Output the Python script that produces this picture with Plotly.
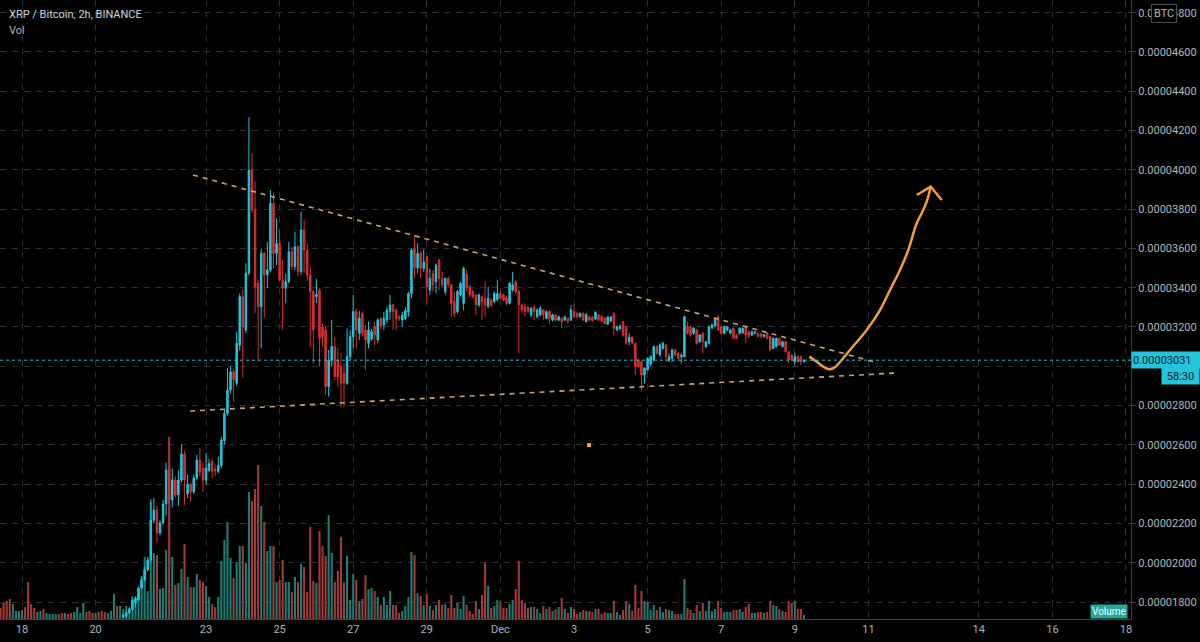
import pandas as pd
import plotly.graph_objects as go

# ---------------- data (prices in satoshi = 1e-8 BTC) ----------------
start_time = "2020-11-17 10:00"
n_bars = 263            # 2h bars visible in the window (volume)
first_candle = 40       # first candle whose price lies inside the visible range

opens = [1725,1728,1746,1762,1796,1810,1871,1912,1963,2014,
 2217,2268,2151,2202,2299,2477,2319,2421,2345,2421,
 2553,2350,2400,2360,2432,2523,2480,2420,2470,2515,
 2475,2465,2495,2620,2760,2879,2972,2913,3108,3354,
 3185,3473,3999,3795,3422,3303,3575,3465,3490,3829,
 3575,3626,3439,3397,3431,3583,3507,3609,3482,3694,
 3592,3465,3380,3355,3388,3200,3185,2896,3032,3100,
 3032,2998,2964,2913,3049,3150,3278,3168,3270,3185,
 3117,3138,3202,3134,3244,3210,3236,3278,3312,3286,
 3252,3235,3244,3278,3371,3600,3500,3575,3498,3558,
 3388,3473,3431,3541,3448,3380,3448,3414,3330,3278,
 3363,3320,3470,3405,3380,3363,3312,3354,3346,3303,
 3337,3329,3340,3371,3363,3350,3320,3388,3430,3380,
 3312,3303,3300,3261,3303,3252,3261,3286,3244,3278,
 3235,3261,3235,3244,3235,3244,3235,3278,3269,3252,
 3269,3227,3252,3250,3240,3261,3255,3247,3215,3230,
 3269,3185,3190,3227,3201,3125,3147,3117,3032,3023,
 2955,2981,3010,3032,3100,3057,3091,3108,3032,3040,
 3083,3066,3049,3049,3201,3201,3168,3185,3125,3168,
 3100,3117,3195,3205,3252,3201,3168,3185,3168,3193,
 3160,3168,3170,3201,3176,3159,3168,3168,3165,3151,
 3168,3151,3091,3100,3142,3100,3125,3074,3057,3023,
 3049,3049,3023]

highs = [1740,1752,1775,1815,1830,1880,1925,1980,2030,2324,
 2330,2290,2215,2320,2508,2520,2480,2440,2470,2600,
 2570,2450,2410,2450,2550,2585,2510,2560,2530,2530,
 2500,2540,2640,2780,2990,3000,2985,3176,3371,3390,
 3524,4267,4084,3940,3439,3600,3583,3634,3897,3880,
 3753,3694,3541,3473,3634,3609,3685,3617,3787,3745,
 3626,3507,3388,3445,3397,3215,3202,3083,3236,3151,
 3091,3066,3015,3193,3185,3363,3295,3281,3275,3210,
 3227,3190,3227,3244,3250,3278,3303,3363,3317,3295,
 3260,3278,3300,3380,3600,3668,3626,3585,3595,3560,
 3498,3490,3524,3545,3480,3450,3456,3420,3380,3388,
 3430,3507,3490,3414,3390,3370,3370,3360,3430,3405,
 3345,3380,3440,3380,3370,3360,3430,3481,3440,3390,
 3320,3320,3305,3300,3310,3295,3305,3292,3285,3283,
 3268,3266,3258,3250,3258,3250,3312,3312,3275,3275,
 3275,3270,3258,3256,3280,3266,3260,3252,3256,3256,
 3275,3208,3212,3232,3206,3168,3152,3122,3040,3030,
 2995,3045,3055,3105,3106,3117,3125,3114,3066,3090,
 3090,3072,3066,3255,3230,3206,3200,3190,3165,3174,
 3130,3208,3218,3245,3260,3206,3206,3206,3190,3198,
 3165,3198,3198,3206,3181,3181,3181,3173,3170,3165,
 3173,3156,3147,3147,3147,3130,3130,3079,3062,3066,
 3054,3054,3036]

lows = [1718,1720,1740,1755,1775,1805,1865,1905,1955,2005,
 2200,2100,2140,2195,2240,2300,2280,2330,2290,2410,
 2294,2330,2310,2350,2420,2440,2360,2400,2460,2430,
 2440,2455,2480,2600,2750,2860,2820,2900,3080,2940,
 3170,3460,3780,3270,3023,3091,3244,3397,3480,3499,
 3515,3431,3185,3320,3422,3490,3490,3456,3465,3473,
 3431,3100,3015,3320,2998,3100,2854,2845,2998,2930,
 2896,2794,2794,2905,3032,3091,3091,3134,3151,2981,
 3091,3130,3108,3117,3190,3185,3219,3236,3185,3185,
 3230,3201,3235,3252,3346,3450,3473,3448,3481,3320,
 3363,3380,3371,3388,3400,3363,3405,3252,3252,3269,
 3355,3286,3380,3350,3345,3261,3300,3235,3252,3295,
 3300,3320,3330,3340,3330,3310,3315,3380,3370,3066,
 3270,3252,3270,3250,3235,3245,3255,3235,3240,3218,
 3228,3228,3230,3193,3230,3220,3230,3245,3245,3248,
 3230,3222,3228,3226,3235,3230,3226,3212,3210,3226,
 3159,3180,3185,3150,3110,3108,3110,2955,2990,2871,
 2913,2975,3000,3025,3060,3050,3085,3023,3023,3023,
 3050,3035,3015,3045,3160,3150,3160,3110,3118,3066,
 3091,3110,3188,3198,3180,3160,3162,3180,3162,3136,
 3136,3162,3165,3117,3145,3154,3163,3145,3145,3146,
 3137,3078,3086,3095,3103,3095,3069,3015,3027,3006,
 3018,3006,3018]

closes = [1735,1746,1766,1810,1820,1871,1912,1963,2014,2217,
 2268,2151,2202,2299,2472,2319,2421,2345,2421,2553,
 2421,2400,2360,2432,2523,2460,2420,2482,2505,2465,
 2468,2495,2625,2760,2879,2972,2930,3117,3354,3200,
 3473,3999,3795,3405,3303,3575,3465,3490,3829,3575,
 3626,3439,3397,3431,3583,3507,3609,3482,3694,3592,
 3465,3380,3185,3365,3142,3150,2896,3032,3100,2947,
 2947,2913,2913,3049,3151,3278,3185,3244,3168,3134,
 3185,3176,3159,3236,3202,3244,3286,3312,3278,3244,
 3244,3261,3286,3371,3592,3500,3575,3498,3530,3405,
 3448,3414,3515,3448,3414,3448,3414,3320,3269,3380,
 3422,3498,3400,3363,3355,3312,3363,3329,3312,3346,
 3312,3371,3371,3346,3337,3320,3422,3414,3380,3312,
 3286,3278,3280,3295,3278,3286,3295,3261,3278,3244,
 3261,3235,3252,3227,3252,3227,3286,3252,3252,3269,
 3235,3264,3235,3232,3275,3235,3232,3218,3250,3250,
 3193,3201,3205,3159,3117,3147,3117,2998,2998,2955,
 2990,3040,3049,3100,3066,3108,3117,3049,3049,3083,
 3057,3040,3057,3252,3168,3159,3193,3117,3159,3125,
 3125,3201,3210,3240,3185,3168,3201,3201,3185,3142,
 3142,3193,3193,3159,3151,3176,3176,3151,3151,3160,
 3142,3083,3142,3142,3108,3125,3074,3032,3032,3049,
 3023,3023,3031]

volume = [11,16,18,20,15,8,8,9,12,37,
 15,11,7,8,10,6,5,5,5,5,
 6,6,5,6,7,12,6,16,7,8,
 6,6,7,8,7,6,8,25,13,13,
 10,13,8,23,20,28,43,62,28,117,
 66,64,30,31,69,182,62,34,36,50,
 75,42,32,32,45,39,37,33,22,15,
 12,22,58,79,97,61,41,57,73,73,
 56,127,118,130,154,113,97,68,73,73,
 37,39,59,37,37,27,42,37,55,52,
 27,92,38,36,88,73,63,104,66,37,
 48,82,37,63,19,45,39,18,20,44,
 30,31,28,22,14,22,14,28,14,14,
 6,8,13,22,67,64,26,23,14,25,
 13,9,14,19,14,15,11,24,11,16,
 10,23,14,8,5,18,10,24,56,33,
 11,13,19,18,11,11,15,19,30,58,
 19,16,11,12,12,10,6,13,10,12,
 8,10,12,21,10,6,12,10,5,7,
 9,8,8,7,10,10,5,7,6,6,
 18,7,4,9,18,15,8,34,11,28,
 18,17,9,14,9,12,7,10,9,8,
 5,5,5,40,11,9,6,14,8,16,
 8,18,8,10,18,11,7,7,7,9,
 9,10,7,12,15,6,6,7,7,6,
 7,18,14,13,10,8,7,18,16,18,
 10,10,4]

# direction of the early bars whose candles are below the visible price range
early_vol_up = [0,0,0,0,1,1,1,1,0,0, 0,0,1,1,0,1,1,1,1,0,
                0,1,0,0,1,1,1,1,0,0, 0,1,0,0,0,1,1,1,0,1]

last_price = 3031
countdown = "58:30"
price_ticks = [1800, 2000, 2200, 2400, 2600, 2800, 3000, 3200, 3400,
               3600, 3800, 4000, 4200, 4400, 4600, 4800]
hidden_tick = 3000      # its label sits under the last-price label in the reference
date_ticks = ["2020-11-18", "2020-11-20", "2020-11-23", "2020-11-25", "2020-11-27",
              "2020-11-29", "2020-12-01", "2020-12-03", "2020-12-05", "2020-12-07",
              "2020-12-09", "2020-12-11", "2020-12-14", "2020-12-16", "2020-12-18"]
date_labels = ["18", "20", "23", "25", "27", "29", "Dec", "3", "5", "7", "9", "11", "14", "16", "18"]

# drawings (anchor points in time / price)
upper_trend_t = ["2020-11-22 15:32", "2020-12-11 06:15"]
upper_trend_p = [3974, 3017]
lower_trend_t = ["2020-11-22 13:34", "2020-12-11 18:39"]
lower_trend_p = [2772, 2966]
curve_t = ["2020-12-09 09:27", "2020-12-09 14:17", "2020-12-09 18:35", "2020-12-09 22:29",
           "2020-12-10 02:12", "2020-12-10 06:35", "2020-12-10 12:00", "2020-12-10 22:53",
           "2020-12-11 07:34", "2020-12-11 14:05", "2020-12-11 20:37", "2020-12-12 02:01",
           "2020-12-12 07:30", "2020-12-12 10:45", "2020-12-12 14:01", "2020-12-12 16:38"]
curve_p = [3049, 3023, 2998, 2985, 2995, 3032, 3083, 3185, 3286, 3388, 3490, 3592,
           3728, 3779, 3838, 3914]
arrow_t = ["2020-12-12 07:30", "2020-12-12 16:38", "2020-12-12 23:49"]
arrow_p = [3872, 3914, 3846]
dot_t = ["2020-12-03 09:47"]
dot_p = [2599]

# ---------------- build ----------------
SAT = 1e-8
UP, DOWN = "#22c5dc", "#d6302d"
VUP, VDOWN = "#1c7d75", "#a23a38"
GRID = "#2a2e39"
TXT = "#b2b5be"
FONT = "Roboto"

times = pd.date_range(start_time, periods=n_bars, freq="2h")
ctimes = times[first_candle:]
s = lambda arr: [v * SAT for v in arr]

vol_up = early_vol_up + [1 if c >= o else 0 for o, c in zip(opens, closes)]
vol_colors = [VUP if u else VDOWN for u in vol_up]

fig = go.Figure()
fig.add_trace(go.Bar(x=times, y=volume, marker_color=vol_colors, marker_line_width=0,
                     yaxis="y", hoverinfo="skip", showlegend=False))
fig.add_trace(go.Candlestick(
    x=ctimes, open=s(opens), high=s(highs), low=s(lows), close=s(closes),
    yaxis="y2", whiskerwidth=0,
    increasing=dict(line=dict(color=UP, width=1), fillcolor=UP),
    decreasing=dict(line=dict(color=DOWN, width=1), fillcolor=DOWN),
    hoverinfo="skip", showlegend=False))

trend_style = dict(color="#cfa273", width=1.6, dash="5px,5px")
fig.add_trace(go.Scatter(x=upper_trend_t, y=s(upper_trend_p), mode="lines", line=trend_style,
                         yaxis="y2", hoverinfo="skip", showlegend=False))
fig.add_trace(go.Scatter(x=lower_trend_t, y=s(lower_trend_p), mode="lines", line=trend_style,
                         yaxis="y2", hoverinfo="skip", showlegend=False))
ORANGE = "#f59d33"
fig.add_trace(go.Scatter(x=curve_t, y=s(curve_p), mode="lines",
                         line=dict(color=ORANGE, width=2.5, shape="spline"),
                         yaxis="y2", hoverinfo="skip", showlegend=False))
fig.add_trace(go.Scatter(x=arrow_t, y=s(arrow_p), mode="lines",
                         line=dict(color=ORANGE, width=2.5),
                         yaxis="y2", hoverinfo="skip", showlegend=False))
fig.add_trace(go.Scatter(x=dot_t, y=s(dot_p), mode="markers",
                         marker=dict(color=ORANGE, size=4, symbol="square"),
                         yaxis="y2", hoverinfo="skip", showlegend=False))

tick_text = ["" if v == hidden_tick else f"{v * SAT:.8f}" for v in price_ticks]

PLOT_H = 619
fig.update_layout(
    width=1200, height=642,
    margin=dict(l=0, r=69, t=0, b=23, pad=0),
    paper_bgcolor="#000000", plot_bgcolor="#000000",
    showlegend=False, hovermode=False, bargap=0.32,
    font=dict(family=FONT, size=11, color=TXT),
    xaxis=dict(type="date", range=["2020-11-17 09:39", "2020-12-18 03:16"],
               tickvals=date_ticks, ticktext=date_labels,
               showgrid=True, gridcolor=GRID, griddash="6px,6px", gridwidth=1,
               showline=True, linecolor="#3a3e48", linewidth=1,
               ticks="", zeroline=False, rangeslider=dict(visible=False),
               tickfont=dict(family=FONT, size=11, color=TXT), fixedrange=True),
    yaxis=dict(range=[0, PLOT_H], visible=False, fixedrange=True),
    yaxis2=dict(overlaying="y", side="right",
                range=[1713.5 * SAT, 4864.4 * SAT],
                tickvals=s(price_ticks), ticktext=tick_text,
                showgrid=True, gridcolor=GRID, griddash="6px,6px", gridwidth=1,
                showline=True, linecolor="#3a3e48", linewidth=1,
                ticks="outside", ticklen=4, tickcolor="#3a3e48",
                zeroline=False, fixedrange=True,
                tickfont=dict(family=FONT, size=11, color=TXT)),
)

fig.add_shape(type="line", xref="paper", x0=0, x1=1, yref="y2",
              y0=last_price * SAT, y1=last_price * SAT,
              line=dict(color=UP, width=1, dash="dot"), layer="above")

W = 1131.0
fig.add_annotation(xref="paper", yref="paper", x=7 / W, y=1 - 14 / PLOT_H,
                   xanchor="left", yanchor="middle", showarrow=False,
                   text="XRP / Bitcoin, 2h, BINANCE",
                   font=dict(family=FONT, size=11, color="#d1d4dc"))
fig.add_annotation(xref="paper", yref="paper", x=7 / W, y=1 - 30 / PLOT_H,
                   xanchor="left", yanchor="middle", showarrow=False,
                   text="Vol", font=dict(family=FONT, size=11, color="#b2b5be"))
fig.add_annotation(xref="paper", yref="paper", x=1164 / W, y=1 - 13 / PLOT_H,
                   xanchor="center", yanchor="middle", showarrow=False,
                   text="BTC", bgcolor="#000000", bordercolor="#4a4e59", borderwidth=1,
                   borderpad=2, font=dict(family=FONT, size=11, color=TXT))
fig.add_annotation(xref="paper", yref="y2", x=1.0, y=last_price * SAT,
                   xanchor="left", yanchor="middle", showarrow=False,
                   text=f"{last_price * SAT:.8f}", bgcolor=UP, borderpad=1,
                   width=66, height=14, align="left",
                   font=dict(family=FONT, size=11, color="#0a1a1d"))
fig.add_annotation(xref="paper", yref="y2", x=1200 / W, y=(last_price - 80) * SAT,
                   xanchor="right", yanchor="middle", showarrow=False,
                   text=countdown, bgcolor=UP, borderpad=1, width=35, height=14,
                   font=dict(family=FONT, size=11, color="#0a1a1d"))
fig.add_annotation(xref="paper", yref="paper", x=1128 / W, y=8 / PLOT_H,
                   xanchor="right", yanchor="middle", showarrow=False,
                   text="Volume", bgcolor="#26a69a", borderpad=1,
                   font=dict(family=FONT, size=10, color="#ffffff"))

fig.write_html("out.html", config={"displayModeBar": False})
